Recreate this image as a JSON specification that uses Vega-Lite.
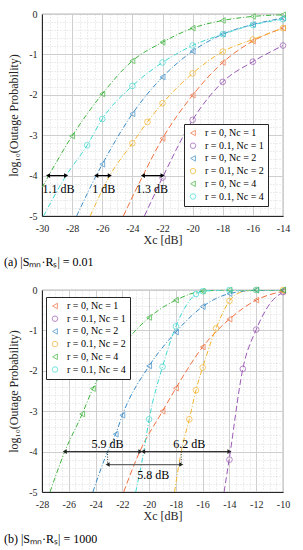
{
  "$schema": "https://vega.github.io/schema/vega-lite/v6.json",
  "padding": {"left": 3, "top": 8, "right": 8, "bottom": 4},
  "spacing": 15,
  "resolve": {"scale": {"color": "independent", "shape": "independent", "stroke": "independent", "strokeDash": "independent"}, "legend": {"color": "independent", "shape": "independent"}},
  "config": {
    "font": "Liberation Serif",
    "view": {"stroke": "#262626", "strokeWidth": 0.8},
    "axis": {"domainColor": "#262626", "labelColor": "#262626", "titleColor": "#262626", "labelFontSize": 10, "titleFontSize": 12, "titleFontWeight": "normal", "labelFont": "Liberation Serif", "titleFont": "Liberation Serif", "ticks": false, "labelBound": false, "labelFlush": false, "labelOverlap": false},
    "legend": {"labelFont": "Liberation Serif", "labelFontSize": 10, "labelColor": "#000000"}
  },
  "datasets": {
    "curvesA": [
      {"series": "r = 0, Nc = 1", "x": -24.6, "y": -5}, {"series": "r = 0, Nc = 1", "x": -23.3, "y": -4}, {"series": "r = 0, Nc = 1", "x": -22, "y": -3.08}, {"series": "r = 0, Nc = 1", "x": -20, "y": -2.01}, {"series": "r = 0, Nc = 1", "x": -18, "y": -1.2}, {"series": "r = 0, Nc = 1", "x": -16, "y": -0.67}, {"series": "r = 0, Nc = 1", "x": -14, "y": -0.35},
      {"series": "r = 0.1, Nc = 1", "x": -23.2, "y": -5}, {"series": "r = 0.1, Nc = 1", "x": -22, "y": -4.05}, {"series": "r = 0.1, Nc = 1", "x": -20, "y": -2.62}, {"series": "r = 0.1, Nc = 1", "x": -18, "y": -1.68}, {"series": "r = 0.1, Nc = 1", "x": -16, "y": -1.18}, {"series": "r = 0.1, Nc = 1", "x": -14, "y": -0.78},
      {"series": "r = 0, Nc = 2", "x": -27.7, "y": -5}, {"series": "r = 0, Nc = 2", "x": -26.4, "y": -4}, {"series": "r = 0, Nc = 2", "x": -26, "y": -3.72}, {"series": "r = 0, Nc = 2", "x": -24, "y": -2.47}, {"series": "r = 0, Nc = 2", "x": -22, "y": -1.56}, {"series": "r = 0, Nc = 2", "x": -20, "y": -0.92}, {"series": "r = 0, Nc = 2", "x": -18, "y": -0.5}, {"series": "r = 0, Nc = 2", "x": -16, "y": -0.26}, {"series": "r = 0, Nc = 2", "x": -14, "y": -0.1},
      {"series": "r = 0.1, Nc = 2", "x": -26.8, "y": -5}, {"series": "r = 0.1, Nc = 2", "x": -25.5, "y": -4}, {"series": "r = 0.1, Nc = 2", "x": -24, "y": -3.2}, {"series": "r = 0.1, Nc = 2", "x": -23, "y": -2.67}, {"series": "r = 0.1, Nc = 2", "x": -22, "y": -2.21}, {"series": "r = 0.1, Nc = 2", "x": -20, "y": -1.47}, {"series": "r = 0.1, Nc = 2", "x": -18, "y": -0.93}, {"series": "r = 0.1, Nc = 2", "x": -16, "y": -0.63}, {"series": "r = 0.1, Nc = 2", "x": -14, "y": -0.35},
      {"series": "r = 0, Nc = 4", "x": -30, "y": -4.3}, {"series": "r = 0, Nc = 4", "x": -28, "y": -3.02}, {"series": "r = 0, Nc = 4", "x": -26, "y": -1.98}, {"series": "r = 0, Nc = 4", "x": -24, "y": -1.16}, {"series": "r = 0, Nc = 4", "x": -22, "y": -0.7}, {"series": "r = 0, Nc = 4", "x": -20, "y": -0.35}, {"series": "r = 0, Nc = 4", "x": -18, "y": -0.16}, {"series": "r = 0, Nc = 4", "x": -16, "y": -0.06}, {"series": "r = 0, Nc = 4", "x": -14, "y": -0.02},
      {"series": "r = 0.1, Nc = 4", "x": -29.9, "y": -5}, {"series": "r = 0.1, Nc = 4", "x": -28.4, "y": -4}, {"series": "r = 0.1, Nc = 4", "x": -27, "y": -3.25}, {"series": "r = 0.1, Nc = 4", "x": -26, "y": -2.6}, {"series": "r = 0.1, Nc = 4", "x": -24, "y": -1.78}, {"series": "r = 0.1, Nc = 4", "x": -22, "y": -1.2}, {"series": "r = 0.1, Nc = 4", "x": -20, "y": -0.78}, {"series": "r = 0.1, Nc = 4", "x": -18, "y": -0.5}, {"series": "r = 0.1, Nc = 4", "x": -16, "y": -0.27}, {"series": "r = 0.1, Nc = 4", "x": -14, "y": -0.13}
    ],
    "marksA": [
      {"series": "r = 0, Nc = 1", "x": -22, "y": -3.08}, {"series": "r = 0, Nc = 1", "x": -20, "y": -2.01}, {"series": "r = 0, Nc = 1", "x": -18, "y": -1.2}, {"series": "r = 0, Nc = 1", "x": -16, "y": -0.67}, {"series": "r = 0, Nc = 1", "x": -14, "y": -0.35},
      {"series": "r = 0.1, Nc = 1", "x": -22, "y": -4.05}, {"series": "r = 0.1, Nc = 1", "x": -20, "y": -2.62}, {"series": "r = 0.1, Nc = 1", "x": -18, "y": -1.68}, {"series": "r = 0.1, Nc = 1", "x": -16, "y": -1.18}, {"series": "r = 0.1, Nc = 1", "x": -14, "y": -0.78},
      {"series": "r = 0, Nc = 2", "x": -26, "y": -3.72}, {"series": "r = 0, Nc = 2", "x": -24, "y": -2.47}, {"series": "r = 0, Nc = 2", "x": -22, "y": -1.56}, {"series": "r = 0, Nc = 2", "x": -20, "y": -0.92}, {"series": "r = 0, Nc = 2", "x": -18, "y": -0.5}, {"series": "r = 0, Nc = 2", "x": -16, "y": -0.26}, {"series": "r = 0, Nc = 2", "x": -14, "y": -0.1},
      {"series": "r = 0.1, Nc = 2", "x": -24, "y": -3.2}, {"series": "r = 0.1, Nc = 2", "x": -23, "y": -2.67}, {"series": "r = 0.1, Nc = 2", "x": -22, "y": -2.21}, {"series": "r = 0.1, Nc = 2", "x": -20, "y": -1.47}, {"series": "r = 0.1, Nc = 2", "x": -18, "y": -0.93}, {"series": "r = 0.1, Nc = 2", "x": -16, "y": -0.63}, {"series": "r = 0.1, Nc = 2", "x": -14, "y": -0.35},
      {"series": "r = 0, Nc = 4", "x": -28, "y": -3.02}, {"series": "r = 0, Nc = 4", "x": -26, "y": -1.98}, {"series": "r = 0, Nc = 4", "x": -24, "y": -1.16}, {"series": "r = 0, Nc = 4", "x": -22, "y": -0.7}, {"series": "r = 0, Nc = 4", "x": -20, "y": -0.35}, {"series": "r = 0, Nc = 4", "x": -18, "y": -0.16}, {"series": "r = 0, Nc = 4", "x": -16, "y": -0.06}, {"series": "r = 0, Nc = 4", "x": -14, "y": -0.02},
      {"series": "r = 0.1, Nc = 4", "x": -27, "y": -3.25}, {"series": "r = 0.1, Nc = 4", "x": -26, "y": -2.6}, {"series": "r = 0.1, Nc = 4", "x": -24, "y": -1.78}, {"series": "r = 0.1, Nc = 4", "x": -22, "y": -1.2}, {"series": "r = 0.1, Nc = 4", "x": -20, "y": -0.78}, {"series": "r = 0.1, Nc = 4", "x": -18, "y": -0.5}, {"series": "r = 0.1, Nc = 4", "x": -16, "y": -0.27}, {"series": "r = 0.1, Nc = 4", "x": -14, "y": -0.13}
    ],
    "annA": [
      {"x1": -29.6, "x2": -28.4, "y": -4, "label": "1.1 dB", "lx": -28.9, "ly": -4.32},
      {"x1": -26.4, "x2": -25.5, "y": -4, "label": "1 dB", "lx": -25.9, "ly": -4.32},
      {"x1": -23.3, "x2": -22.0, "y": -4, "label": "1.3 dB", "lx": -22.7, "ly": -4.32}
    ],
    "capA": [
      {"cx": -32.52, "cy": -6.14, "text": "(a) |Sₘₙ·Rₛ| = 0.01"}
    ],
    "curvesB": [
      {"series": "r = 0, Nc = 1", "x": -21.9, "y": -5}, {"series": "r = 0, Nc = 1", "x": -20.7, "y": -4}, {"series": "r = 0, Nc = 1", "x": -19, "y": -3.0}, {"series": "r = 0, Nc = 1", "x": -18, "y": -2.43}, {"series": "r = 0, Nc = 1", "x": -16, "y": -1.41}, {"series": "r = 0, Nc = 1", "x": -14, "y": -0.72}, {"series": "r = 0, Nc = 1", "x": -12, "y": -0.25}, {"series": "r = 0, Nc = 1", "x": -10, "y": -0.03},
      {"series": "r = 0.1, Nc = 1", "x": -14.4, "y": -5}, {"series": "r = 0.1, Nc = 1", "x": -14, "y": -4.15}, {"series": "r = 0.1, Nc = 1", "x": -13, "y": -1.95}, {"series": "r = 0.1, Nc = 1", "x": -12, "y": -0.98}, {"series": "r = 0.1, Nc = 1", "x": -11, "y": -0.35}, {"series": "r = 0.1, Nc = 1", "x": -10, "y": -0.05},
      {"series": "r = 0, Nc = 2", "x": -24.2, "y": -5}, {"series": "r = 0, Nc = 2", "x": -23.1, "y": -4}, {"series": "r = 0, Nc = 2", "x": -22.5, "y": -3.57}, {"series": "r = 0, Nc = 2", "x": -22, "y": -3.1}, {"series": "r = 0, Nc = 2", "x": -20, "y": -1.88}, {"series": "r = 0, Nc = 2", "x": -18, "y": -1.04}, {"series": "r = 0, Nc = 2", "x": -16, "y": -0.41}, {"series": "r = 0, Nc = 2", "x": -14, "y": -0.09}, {"series": "r = 0, Nc = 2", "x": -12, "y": -0.01}, {"series": "r = 0, Nc = 2", "x": -10, "y": 0},
      {"series": "r = 0.1, Nc = 2", "x": -18.1, "y": -5}, {"series": "r = 0.1, Nc = 2", "x": -17.6, "y": -4}, {"series": "r = 0.1, Nc = 2", "x": -17, "y": -3.2}, {"series": "r = 0.1, Nc = 2", "x": -16.5, "y": -2.48}, {"series": "r = 0.1, Nc = 2", "x": -16, "y": -1.92}, {"series": "r = 0.1, Nc = 2", "x": -15, "y": -0.95}, {"series": "r = 0.1, Nc = 2", "x": -14, "y": -0.27}, {"series": "r = 0.1, Nc = 2", "x": -13, "y": -0.04}, {"series": "r = 0.1, Nc = 2", "x": -12, "y": 0}, {"series": "r = 0.1, Nc = 2", "x": -10, "y": 0},
      {"series": "r = 0, Nc = 4", "x": -27.4, "y": -5}, {"series": "r = 0, Nc = 4", "x": -26.3, "y": -4}, {"series": "r = 0, Nc = 4", "x": -25, "y": -3.07}, {"series": "r = 0, Nc = 4", "x": -24.2, "y": -2.44}, {"series": "r = 0, Nc = 4", "x": -22, "y": -1.38}, {"series": "r = 0, Nc = 4", "x": -20, "y": -0.68}, {"series": "r = 0, Nc = 4", "x": -18, "y": -0.25}, {"series": "r = 0, Nc = 4", "x": -16, "y": -0.03}, {"series": "r = 0, Nc = 4", "x": -14, "y": 0}, {"series": "r = 0, Nc = 4", "x": -12, "y": 0}, {"series": "r = 0, Nc = 4", "x": -10, "y": 0},
      {"series": "r = 0.1, Nc = 4", "x": -21, "y": -5}, {"series": "r = 0.1, Nc = 4", "x": -20.4, "y": -4}, {"series": "r = 0.1, Nc = 4", "x": -20, "y": -3.2}, {"series": "r = 0.1, Nc = 4", "x": -19, "y": -1.9}, {"series": "r = 0.1, Nc = 4", "x": -18, "y": -0.9}, {"series": "r = 0.1, Nc = 4", "x": -16.5, "y": -0.1}, {"series": "r = 0.1, Nc = 4", "x": -16, "y": -0.03}, {"series": "r = 0.1, Nc = 4", "x": -14, "y": 0}, {"series": "r = 0.1, Nc = 4", "x": -12, "y": 0}, {"series": "r = 0.1, Nc = 4", "x": -10, "y": 0}
    ],
    "marksB": [
      {"series": "r = 0, Nc = 1", "x": -19, "y": -3.0}, {"series": "r = 0, Nc = 1", "x": -18, "y": -2.43}, {"series": "r = 0, Nc = 1", "x": -16, "y": -1.41}, {"series": "r = 0, Nc = 1", "x": -14, "y": -0.72}, {"series": "r = 0, Nc = 1", "x": -12, "y": -0.25}, {"series": "r = 0, Nc = 1", "x": -10, "y": -0.03},
      {"series": "r = 0.1, Nc = 1", "x": -14, "y": -4.2}, {"series": "r = 0.1, Nc = 1", "x": -13, "y": -1.95}, {"series": "r = 0.1, Nc = 1", "x": -12, "y": -0.98}, {"series": "r = 0.1, Nc = 1", "x": -10, "y": -0.05},
      {"series": "r = 0, Nc = 2", "x": -22.5, "y": -3.57}, {"series": "r = 0, Nc = 2", "x": -22, "y": -3.1}, {"series": "r = 0, Nc = 2", "x": -20, "y": -1.88}, {"series": "r = 0, Nc = 2", "x": -18, "y": -1.04}, {"series": "r = 0, Nc = 2", "x": -16, "y": -0.41}, {"series": "r = 0, Nc = 2", "x": -14, "y": -0.09}, {"series": "r = 0, Nc = 2", "x": -12, "y": 0}, {"series": "r = 0, Nc = 2", "x": -10, "y": 0},
      {"series": "r = 0.1, Nc = 2", "x": -17, "y": -3.2}, {"series": "r = 0.1, Nc = 2", "x": -16.5, "y": -2.48}, {"series": "r = 0.1, Nc = 2", "x": -16, "y": -1.92}, {"series": "r = 0.1, Nc = 2", "x": -15, "y": -0.95}, {"series": "r = 0.1, Nc = 2", "x": -14, "y": -0.27}, {"series": "r = 0.1, Nc = 2", "x": -12, "y": 0}, {"series": "r = 0.1, Nc = 2", "x": -10, "y": 0},
      {"series": "r = 0, Nc = 4", "x": -25, "y": -3.07}, {"series": "r = 0, Nc = 4", "x": -24.2, "y": -2.44}, {"series": "r = 0, Nc = 4", "x": -20, "y": -0.68}, {"series": "r = 0, Nc = 4", "x": -18, "y": -0.25}, {"series": "r = 0, Nc = 4", "x": -16, "y": -0.03}, {"series": "r = 0, Nc = 4", "x": -14, "y": 0}, {"series": "r = 0, Nc = 4", "x": -12, "y": 0}, {"series": "r = 0, Nc = 4", "x": -10, "y": 0},
      {"series": "r = 0.1, Nc = 4", "x": -20, "y": -3.2}, {"series": "r = 0.1, Nc = 4", "x": -19, "y": -1.9}, {"series": "r = 0.1, Nc = 4", "x": -18, "y": -0.9}, {"series": "r = 0.1, Nc = 4", "x": -16.5, "y": -0.1}, {"series": "r = 0.1, Nc = 4", "x": -16, "y": -0.03}, {"series": "r = 0.1, Nc = 4", "x": -14, "y": 0}, {"series": "r = 0.1, Nc = 4", "x": -12, "y": 0}
    ],
    "annB": [
      {"x1": -26.3, "x2": -20.65, "y": -4, "label": "5.9 dB", "lx": -23.1, "ly": -3.82},
      {"x1": -20.45, "x2": -14.0, "y": -4, "label": "6.2 dB", "lx": -17.0, "ly": -3.82}
    ],
    "annB2": [
      {"x1": -23.1, "x2": -17.6, "y": -4.32, "label": "5.8 dB", "lx": -19.7, "ly": -4.58}
    ],
    "connB": [
      {"x": -23.1, "y1": -4, "y2": -4.32},
      {"x": -17.6, "y1": -4, "y2": -4.32}
    ],
    "capB": [
      {"cx": -30.84, "cy": -6.16, "text": "(b) |Sₘₙ·Rₛ| = 1000"}
    ]
  },
  "vconcat": [
    {
      "width": 241,
      "height": 202,
      "layer": [
        {
          "data": {"name": "curvesA"},
          "mark": {"type": "line", "interpolate": "monotone", "strokeWidth": 1, "clip": true},
          "encoding": {
            "x": {"field": "x", "type": "quantitative", "scale": {"domain": [-30, -14], "nice": false, "zero": false},
              "axis": {"title": "Xc [dB]", "tickCount": 200, "values": [-30,-29.5,-29,-28.5,-28,-27.5,-27,-26.5,-26,-25.5,-25,-24.5,-24,-23.5,-23,-22.5,-22,-21.5,-21,-20.5,-20,-19.5,-19,-18.5,-18,-17.5,-17,-16.5,-16,-15.5,-15,-14.5,-14],
                "labelExpr": "abs(datum.value % 2) < 0.01 ? '' + datum.value : ''", "labelOverlap": false, "labelPadding": 7, "titlePadding": 1,
                "grid": true, "gridColor": {"condition": {"test": "abs(datum.value % 2) < 0.01", "value": "#cfcfcf"}, "value": "#dadada"}, "gridDash": {"condition": {"test": "abs(datum.value % 2) < 0.01", "value": []}, "value": [1, 2]}}},
            "y": {"field": "y", "type": "quantitative", "scale": {"domain": [-5, 0], "nice": false, "zero": false},
              "axis": {"title": "log₁₀(Outage Probability)", "tickCount": 200, "values": [-5,-4.8,-4.6,-4.4,-4.2,-4,-3.8,-3.6,-3.4,-3.2,-3,-2.8,-2.6,-2.4,-2.2,-2,-1.8,-1.6,-1.4,-1.2,-1,-0.8,-0.6,-0.4,-0.2,0],
                "labelExpr": "abs(datum.value % 1) < 0.01 ? '' + datum.value : ''", "labelOverlap": false, "labelPadding": 5, "titlePadding": 8,
                "grid": true, "gridColor": {"condition": {"test": "abs(datum.value % 1) < 0.01", "value": "#cfcfcf"}, "value": "#dadada"}, "gridDash": {"condition": {"test": "abs(datum.value % 1) < 0.01", "value": []}, "value": [1, 2]}}},
            "stroke": {"field": "series", "type": "nominal", "legend": null, "scale": {"domain": ["r = 0, Nc = 1", "r = 0, Nc = 2", "r = 0, Nc = 4", "r = 0.1, Nc = 1", "r = 0.1, Nc = 2", "r = 0.1, Nc = 4"], "range": ["#F2703F", "#3A8CC9", "#3DB53D", "#9B59B6", "#F5B52E", "#3FD9D2"]}},
            "strokeDash": {"field": "series", "type": "nominal", "legend": null, "scale": {"domain": ["r = 0, Nc = 1", "r = 0, Nc = 2", "r = 0, Nc = 4", "r = 0.1, Nc = 1", "r = 0.1, Nc = 2", "r = 0.1, Nc = 4"], "range": [[6, 3], [5, 2, 1, 2], [5, 2, 1, 2], [6, 3], [5, 2, 1, 2], [5, 2, 1, 2]]}}
          }
        },
        {
          "data": {"name": "marksA"},
          "mark": {"type": "point", "filled": false, "strokeWidth": 1, "size": 32},
          "encoding": {
            "x": {"field": "x", "type": "quantitative"},
            "y": {"field": "y", "type": "quantitative"},
            "color": {"field": "series", "type": "nominal", "scale": {"domain": ["r = 0, Nc = 1", "r = 0.1, Nc = 1", "r = 0, Nc = 2", "r = 0.1, Nc = 2", "r = 0, Nc = 4", "r = 0.1, Nc = 4"], "range": ["#F2703F", "#9B59B6", "#3A8CC9", "#F5B52E", "#3DB53D", "#3FD9D2"]}, "legend": {"title": null, "orient": "none", "legendX": 142, "legendY": 110, "strokeColor": "#262626", "fillColor": "#ffffff", "padding": 4, "rowPadding": 2.7, "symbolSize": 30, "symbolStrokeWidth": 1, "labelOffset": 7}},
            "shape": {"field": "series", "type": "nominal", "scale": {"domain": ["r = 0, Nc = 1", "r = 0.1, Nc = 1", "r = 0, Nc = 2", "r = 0.1, Nc = 2", "r = 0, Nc = 4", "r = 0.1, Nc = 4"], "range": ["triangle-left", "circle", "triangle-left", "circle", "triangle-left", "circle"]}}
          }
        },
        {
          "data": {"name": "annA"},
          "mark": {"type": "rule", "color": "#000000", "strokeWidth": 1.2},
          "encoding": {"x": {"field": "x1", "type": "quantitative"}, "x2": {"field": "x2"}, "y": {"field": "y", "type": "quantitative"}}
        },
        {
          "data": {"name": "annA"},
          "mark": {"type": "point", "shape": "triangle-left", "filled": true, "color": "#000000", "size": 22, "opacity": 1},
          "encoding": {"x": {"field": "x1", "type": "quantitative"}, "y": {"field": "y", "type": "quantitative"}}
        },
        {
          "data": {"name": "annA"},
          "mark": {"type": "point", "shape": "triangle-right", "filled": true, "color": "#000000", "size": 22, "opacity": 1},
          "encoding": {"x": {"field": "x2", "type": "quantitative"}, "y": {"field": "y", "type": "quantitative"}}
        },
        {
          "data": {"name": "annA"},
          "mark": {"type": "text", "fontSize": 12, "color": "#000000", "font": "Liberation Serif"},
          "encoding": {"x": {"field": "lx", "type": "quantitative"}, "y": {"field": "ly", "type": "quantitative"}, "text": {"field": "label"}}
        },
        {
          "data": {"name": "capA"},
          "mark": {"type": "text", "fontSize": 12, "color": "#000000", "font": "Liberation Serif", "align": "left", "baseline": "middle", "clip": false},
          "encoding": {"x": {"field": "cx", "type": "quantitative"}, "y": {"field": "cy", "type": "quantitative"}, "text": {"field": "text"}}
        }
      ]
    },
    {
      "width": 241,
      "height": 202,
      "layer": [
        {
          "data": {"name": "curvesB"},
          "mark": {"type": "line", "interpolate": "monotone", "strokeWidth": 1, "clip": true},
          "encoding": {
            "x": {"field": "x", "type": "quantitative", "scale": {"domain": [-28, -10], "nice": false, "zero": false},
              "axis": {"title": "Xc [dB]", "tickCount": 200, "values": [-28,-27.5,-27,-26.5,-26,-25.5,-25,-24.5,-24,-23.5,-23,-22.5,-22,-21.5,-21,-20.5,-20,-19.5,-19,-18.5,-18,-17.5,-17,-16.5,-16,-15.5,-15,-14.5,-14,-13.5,-13,-12.5,-12,-11.5,-11,-10.5,-10],
                "labelExpr": "abs(datum.value % 2) < 0.01 ? '' + datum.value : ''", "labelOverlap": false, "labelPadding": 7, "titlePadding": 1,
                "grid": true, "gridColor": {"condition": {"test": "abs(datum.value % 2) < 0.01", "value": "#cfcfcf"}, "value": "#dadada"}, "gridDash": {"condition": {"test": "abs(datum.value % 2) < 0.01", "value": []}, "value": [1, 2]}}},
            "y": {"field": "y", "type": "quantitative", "scale": {"domain": [-5, 0], "nice": false, "zero": false},
              "axis": {"title": "log₁₀(Outage Probability)", "tickCount": 200, "values": [-5,-4.8,-4.6,-4.4,-4.2,-4,-3.8,-3.6,-3.4,-3.2,-3,-2.8,-2.6,-2.4,-2.2,-2,-1.8,-1.6,-1.4,-1.2,-1,-0.8,-0.6,-0.4,-0.2,0],
                "labelExpr": "abs(datum.value % 1) < 0.01 ? '' + datum.value : ''", "labelOverlap": false, "labelPadding": 5, "titlePadding": 8,
                "grid": true, "gridColor": {"condition": {"test": "abs(datum.value % 1) < 0.01", "value": "#cfcfcf"}, "value": "#dadada"}, "gridDash": {"condition": {"test": "abs(datum.value % 1) < 0.01", "value": []}, "value": [1, 2]}}},
            "stroke": {"field": "series", "type": "nominal", "legend": null, "scale": {"domain": ["r = 0, Nc = 1", "r = 0, Nc = 2", "r = 0, Nc = 4", "r = 0.1, Nc = 1", "r = 0.1, Nc = 2", "r = 0.1, Nc = 4"], "range": ["#F2703F", "#3A8CC9", "#3DB53D", "#9B59B6", "#F5B52E", "#3FD9D2"]}},
            "strokeDash": {"field": "series", "type": "nominal", "legend": null, "scale": {"domain": ["r = 0, Nc = 1", "r = 0, Nc = 2", "r = 0, Nc = 4", "r = 0.1, Nc = 1", "r = 0.1, Nc = 2", "r = 0.1, Nc = 4"], "range": [[6, 3], [5, 2, 1, 2], [5, 2, 1, 2], [6, 3], [5, 2, 1, 2], [5, 2, 1, 2]]}}
          }
        },
        {
          "data": {"name": "marksB"},
          "mark": {"type": "point", "filled": false, "strokeWidth": 1, "size": 32},
          "encoding": {
            "x": {"field": "x", "type": "quantitative"},
            "y": {"field": "y", "type": "quantitative"},
            "color": {"field": "series", "type": "nominal", "scale": {"domain": ["r = 0, Nc = 1", "r = 0.1, Nc = 1", "r = 0, Nc = 2", "r = 0.1, Nc = 2", "r = 0, Nc = 4", "r = 0.1, Nc = 4"], "range": ["#F2703F", "#9B59B6", "#3A8CC9", "#F5B52E", "#3DB53D", "#3FD9D2"]}, "legend": {"title": null, "orient": "none", "legendX": 4, "legendY": 7, "strokeColor": "#262626", "fillColor": "#ffffff", "padding": 4, "rowPadding": 2.7, "symbolSize": 30, "symbolStrokeWidth": 1, "labelOffset": 7}},
            "shape": {"field": "series", "type": "nominal", "scale": {"domain": ["r = 0, Nc = 1", "r = 0.1, Nc = 1", "r = 0, Nc = 2", "r = 0.1, Nc = 2", "r = 0, Nc = 4", "r = 0.1, Nc = 4"], "range": ["triangle-left", "circle", "triangle-left", "circle", "triangle-left", "circle"]}}
          }
        },
        {
          "data": {"name": "connB"},
          "mark": {"type": "rule", "color": "#333333", "strokeWidth": 1, "strokeDash": [1, 1.5]},
          "encoding": {"x": {"field": "x", "type": "quantitative"}, "y": {"field": "y1", "type": "quantitative"}, "y2": {"field": "y2"}}
        },
        {
          "data": {"name": "annB"},
          "mark": {"type": "rule", "color": "#333333", "strokeWidth": 1.2},
          "encoding": {"x": {"field": "x1", "type": "quantitative"}, "x2": {"field": "x2"}, "y": {"field": "y", "type": "quantitative"}}
        },
        {
          "data": {"name": "annB"},
          "mark": {"type": "point", "shape": "triangle-left", "filled": true, "color": "#222222", "size": 22, "opacity": 1},
          "encoding": {"x": {"field": "x1", "type": "quantitative"}, "y": {"field": "y", "type": "quantitative"}}
        },
        {
          "data": {"name": "annB"},
          "mark": {"type": "point", "shape": "triangle-right", "filled": true, "color": "#222222", "size": 22, "opacity": 1},
          "encoding": {"x": {"field": "x2", "type": "quantitative"}, "y": {"field": "y", "type": "quantitative"}}
        },
        {
          "data": {"name": "annB"},
          "mark": {"type": "text", "fontSize": 12, "color": "#000000", "font": "Liberation Serif"},
          "encoding": {"x": {"field": "lx", "type": "quantitative"}, "y": {"field": "ly", "type": "quantitative"}, "text": {"field": "label"}}
        },
        {
          "data": {"name": "annB2"},
          "mark": {"type": "rule", "color": "#666666", "strokeWidth": 1.2},
          "encoding": {"x": {"field": "x1", "type": "quantitative"}, "x2": {"field": "x2"}, "y": {"field": "y", "type": "quantitative"}}
        },
        {
          "data": {"name": "annB2"},
          "mark": {"type": "point", "shape": "triangle-left", "filled": true, "color": "#222222", "size": 22, "opacity": 1},
          "encoding": {"x": {"field": "x1", "type": "quantitative"}, "y": {"field": "y", "type": "quantitative"}}
        },
        {
          "data": {"name": "annB2"},
          "mark": {"type": "point", "shape": "triangle-right", "filled": true, "color": "#222222", "size": 22, "opacity": 1},
          "encoding": {"x": {"field": "x2", "type": "quantitative"}, "y": {"field": "y", "type": "quantitative"}}
        },
        {
          "data": {"name": "annB2"},
          "mark": {"type": "text", "fontSize": 12, "color": "#000000", "font": "Liberation Serif"},
          "encoding": {"x": {"field": "lx", "type": "quantitative"}, "y": {"field": "ly", "type": "quantitative"}, "text": {"field": "label"}}
        },
        {
          "data": {"name": "capB"},
          "mark": {"type": "text", "fontSize": 12, "color": "#000000", "font": "Liberation Serif", "align": "left", "baseline": "middle", "clip": false},
          "encoding": {"x": {"field": "cx", "type": "quantitative"}, "y": {"field": "cy", "type": "quantitative"}, "text": {"field": "text"}}
        }
      ]
    }
  ]
}
